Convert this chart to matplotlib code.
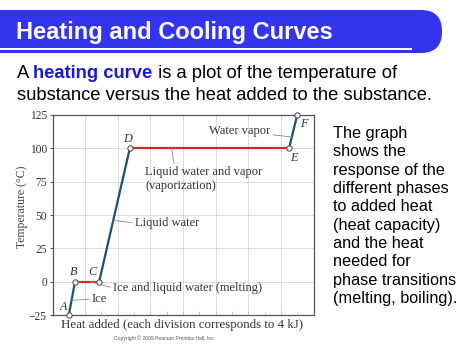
import matplotlib
matplotlib.use("Agg")
import matplotlib.pyplot as plt
from matplotlib.patches import FancyBboxPatch, Rectangle

# heating curve data (x in divisions, 4 kJ each)
heat_div = [0.5, 0.69, 1.43, 2.37, 7.25, 7.5]
temp_c = [-25, 0, 0, 100, 100, 125]
point_names = ["A", "B", "C", "D", "E", "F"]
seg_colors = ["#1f4e79", "#d8252f", "#1f4e79", "#d8252f", "#1f4e79"]
y_ticks = [-25, 0, 25, 50, 75, 100, 125]

W, H = 474, 355
fig = plt.figure(figsize=(W / 100, H / 100), dpi=100)

# slide background layer in pixel coords
bg = fig.add_axes([0, 0, 1, 1], zorder=0)
bg.set_xlim(0, W)
bg.set_ylim(H, 0)
bg.axis("off")
bg.add_patch(FancyBboxPatch((-40, 10), 482, 43, boxstyle="round,pad=0,rounding_size=21",
                            fc="#3434ee", ec="none"))
bg.add_patch(Rectangle((0, 48), 412, 1.8, fc="white", ec="none"))
bg.text(16, 33, "Heating and Cooling Curves", color="white", fontsize=17, fontweight="bold",
        family="Liberation Sans", va="center", ha="left")

sub = dict(fontsize=13.2, family="Liberation Sans", va="center")
t1 = bg.text(17, 73, "A ", color="black", **sub)
t2 = bg.annotate("heating curve", xycoords=t1, xy=(1, 0), va="bottom", color="#1a1acc",
                 fontweight="bold", fontsize=13.2, family="Liberation Sans")
bg.annotate(" is a plot of the temperature of", xycoords=t2, xy=(1, 0), va="bottom",
            color="black", fontsize=13.2, family="Liberation Sans")
bg.text(17, 95, "substance versus the heat added to the substance.", color="black", **sub)

bg.text(333, 216, "The graph\nshows the\nresponse of the\ndifferent phases\nto added heat\n"
        "(heat capacity)\nand the heat\nneeded for\nphase transitions\n(melting, boiling).",
        fontsize=11.7, family="Liberation Sans", va="center", ha="left", linespacing=1.28)

bg.text(22, 207, "Temperature (\u00b0C)", rotation=90, fontsize=8.5, family="Liberation Serif",
        color="#444444", ha="center", va="center")
bg.text(182, 325, "Heat added (each division corresponds to 4 kJ)", fontsize=9.3,
        family="Liberation Serif", color="#333333", ha="center", va="center")
bg.text(165, 338, "Copyright \u00a9 2009 Pearson Prentice Hall, Inc.", fontsize=3.6,
        family="Liberation Sans", color="#555555", ha="center", va="center")

# chart
ax = fig.add_axes([52.5 / W, (H - 315) / H, 261 / W, 200 / H], zorder=1)
ax.patch.set_alpha(0)
ax.set_xlim(0, 8)
ax.set_ylim(-25, 125)
ax.set_xticks(range(1, 8))
ax.set_xticks([i + 0.5 for i in range(8)], minor=True)
ax.set_yticks(y_ticks)
ax.set_yticklabels(["\u221225" if v < 0 else str(v) for v in y_ticks],
                   family="Liberation Serif", fontsize=8.3, color="#333333")
ax.tick_params(axis="x", which="both", direction="in", length=3, color="#cccccc",
               labelbottom=False)
ax.tick_params(axis="y", direction="out", length=2.5, color="#555555", pad=1.5)
ax.grid(True, color="#d6d6d6", lw=0.6)
ax.set_axisbelow(True)
for s in ax.spines.values():
    s.set_color("#555555")
    s.set_linewidth(0.9)

for i in range(len(heat_div) - 1):
    ax.plot(heat_div[i:i + 2], temp_c[i:i + 2], color=seg_colors[i], lw=1.6,
            solid_capstyle="butt", zorder=3)
ax.plot(heat_div, temp_c, ls="none", marker="o", ms=3.8, mfc="white", mec="#555555",
        mew=0.8, zorder=4, clip_on=False)

# point letters
letter_pos = [(0.33, -19), (0.64, 7.5), (1.23, 7.5), (2.29, 107), (7.41, 92.5), (7.69, 118)]
for name, (lx, ly) in zip(point_names, letter_pos):
    ax.text(lx, ly, name, style="italic", family="Liberation Serif", fontsize=8.8,
            color="#333333", ha="center", va="center")

lead = dict(arrowstyle="-", color="#888888", lw=0.6, shrinkA=0, shrinkB=0)
ann = dict(family="Liberation Serif", fontsize=9, color="#333333", va="center")
ax.annotate("Water vapor", xy=(7.34, 108.5), xytext=(6.67, 113), ha="right",
            arrowprops=lead, **ann)
ax.annotate("Liquid water and vapor\n(vaporization)", xy=(3.65, 100), xytext=(2.84, 77),
            ha="left", arrowprops=dict(lead, relpos=(0.25, 1)), linespacing=1.15, **ann)
ax.annotate("Liquid water", xy=(1.87, 46), xytext=(2.53, 44), ha="left",
            arrowprops=dict(lead, relpos=(0, 0.5)), **ann)
ax.annotate("Ice and liquid water (melting)", xy=(1.17, 0), xytext=(1.85, -4.8), ha="left",
            arrowprops=dict(lead, relpos=(0, 0.5)), **ann)
ax.annotate("Ice", xy=(0.59, -14), xytext=(1.21, -13), ha="left",
            arrowprops=dict(lead, relpos=(0, 0.5)), **ann)

fig.savefig("out.png", dpi=100)
